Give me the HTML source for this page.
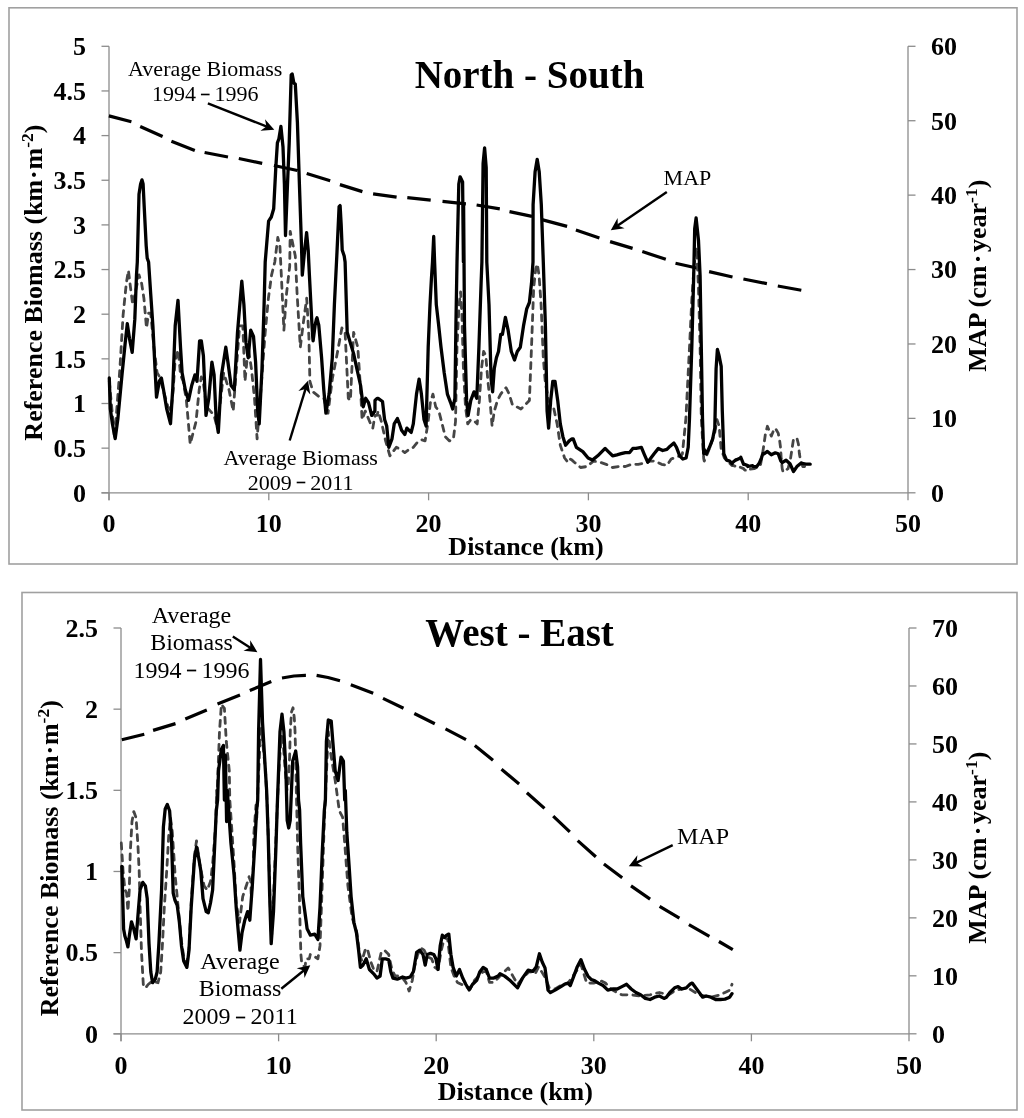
<!DOCTYPE html><html><head><meta charset="utf-8"><style>html,body{margin:0;padding:0;background:#fff;width:1024px;height:1118px;overflow:hidden}svg{display:block;will-change:transform}text{font-family:"Liberation Serif",serif}</style></head><body>
<svg width="1024" height="1118" viewBox="0 0 1024 1118">
<rect x="0" y="0" width="1024" height="1118" fill="#fff"/>
<rect x="9" y="7.8" width="1008" height="556.2" fill="none" stroke="#a0a0a0" stroke-width="1.6"/>
<g stroke="#8c8c8c" stroke-width="1.3" fill="none">
<line x1="109" y1="46.3" x2="109" y2="500.3"/>
<line x1="101.5" y1="492.8" x2="908" y2="492.8"/>
<line x1="908" y1="46.3" x2="908" y2="492.8"/>
<line x1="101.5" y1="492.80" x2="109" y2="492.80"/>
<line x1="101.5" y1="448.15" x2="109" y2="448.15"/>
<line x1="101.5" y1="403.50" x2="109" y2="403.50"/>
<line x1="101.5" y1="358.85" x2="109" y2="358.85"/>
<line x1="101.5" y1="314.20" x2="109" y2="314.20"/>
<line x1="101.5" y1="269.55" x2="109" y2="269.55"/>
<line x1="101.5" y1="224.90" x2="109" y2="224.90"/>
<line x1="101.5" y1="180.25" x2="109" y2="180.25"/>
<line x1="101.5" y1="135.60" x2="109" y2="135.60"/>
<line x1="101.5" y1="90.95" x2="109" y2="90.95"/>
<line x1="101.5" y1="46.30" x2="109" y2="46.30"/>
<line x1="908" y1="492.80" x2="915.5" y2="492.80"/>
<line x1="908" y1="418.38" x2="915.5" y2="418.38"/>
<line x1="908" y1="343.97" x2="915.5" y2="343.97"/>
<line x1="908" y1="269.55" x2="915.5" y2="269.55"/>
<line x1="908" y1="195.13" x2="915.5" y2="195.13"/>
<line x1="908" y1="120.72" x2="915.5" y2="120.72"/>
<line x1="908" y1="46.30" x2="915.5" y2="46.30"/>
<line x1="109.00" y1="492.8" x2="109.00" y2="500.3"/>
<line x1="268.80" y1="492.8" x2="268.80" y2="500.3"/>
<line x1="428.60" y1="492.8" x2="428.60" y2="500.3"/>
<line x1="588.40" y1="492.8" x2="588.40" y2="500.3"/>
<line x1="748.20" y1="492.8" x2="748.20" y2="500.3"/>
<line x1="908.00" y1="492.8" x2="908.00" y2="500.3"/>
</g>
<g font-weight="bold" font-size="26" fill="#000">
<text x="86" y="501.60" text-anchor="end">0</text>
<text x="86" y="456.95" text-anchor="end">0.5</text>
<text x="86" y="412.30" text-anchor="end">1</text>
<text x="86" y="367.65" text-anchor="end">1.5</text>
<text x="86" y="323.00" text-anchor="end">2</text>
<text x="86" y="278.35" text-anchor="end">2.5</text>
<text x="86" y="233.70" text-anchor="end">3</text>
<text x="86" y="189.05" text-anchor="end">3.5</text>
<text x="86" y="144.40" text-anchor="end">4</text>
<text x="86" y="99.75" text-anchor="end">4.5</text>
<text x="86" y="55.10" text-anchor="end">5</text>
<text x="931" y="501.60">0</text>
<text x="931" y="427.18">10</text>
<text x="931" y="352.77">20</text>
<text x="931" y="278.35">30</text>
<text x="931" y="203.93">40</text>
<text x="931" y="129.52">50</text>
<text x="931" y="55.10">60</text>
<text x="109.00" y="532" text-anchor="middle">0</text>
<text x="268.80" y="532" text-anchor="middle">10</text>
<text x="428.60" y="532" text-anchor="middle">20</text>
<text x="588.40" y="532" text-anchor="middle">30</text>
<text x="748.20" y="532" text-anchor="middle">40</text>
<text x="908.00" y="532" text-anchor="middle">50</text>
</g>
<text x="526" y="555" font-weight="bold" font-size="26" text-anchor="middle">Distance (km)</text>
<text x="529.5" y="88" font-weight="bold" font-size="39" text-anchor="middle">North - South</text>
<text transform="translate(41.6,282.6) rotate(-90)" font-weight="bold" font-size="26" text-anchor="middle">Reference Biomass (km<tspan dx="0.8">·</tspan><tspan dx="0.8">m</tspan><tspan font-size="17.5" dy="-9">-2</tspan><tspan dy="9">)</tspan></text>
<text transform="translate(986,275.7) rotate(-90)" font-weight="bold" font-size="26" text-anchor="middle">MAP (cm<tspan dx="2.5">·</tspan><tspan dx="2.5">year</tspan><tspan font-size="17.5" dy="-9">-1</tspan><tspan dy="9">)</tspan></text>
<path d="M108.9,115.9 L131.4,121.8 M140.2,126.5 L162.6,136.5 M171.4,141.3 L194.8,150.5 M204.6,152.5 L228.0,157.0 M238.8,158.5 L262.2,163.4 M273.9,165.5 L297.4,170.5 L297.6,170.6 M306.7,173.5 L330.2,180.8 M339.9,184.6 L362.4,191.6 M373.1,193.8 L396.6,197.2 M407.3,197.6 L430.7,200.2 M442.5,201.3 L465.9,203.8 M476.6,205.0 L499.8,208.8 M509.5,211.6 L532.0,216.4 M541.8,219.6 L567.1,226.4 M575.9,230.0 L599.4,238.0 M610.1,241.6 L632.6,248.4 M642.3,251.6 L665.8,259.3 M675.5,263.2 L699.0,268.5 M709.1,271.6 L732.5,277.0 M743.4,279.0 L766.9,283.6 M777.8,286.0 L801.3,290.3" fill="none" stroke="#000" stroke-width="3.2" stroke-linejoin="round"/>
<polyline points="109.3,381.1 114.6,438.6 119.9,368.4 123.1,315.2 126.3,283.3 128.4,270.5 130.5,287.5 132.7,304.6 135.9,289.7 139.0,274.8 141.6,283.3 143.9,298.2 146.5,328.0 148.6,313.1 150.7,313.1 153.9,347.1 157.1,372.6 159.8,377.3 163.9,392.5 167.8,406.2 171.0,410.8 173.2,389.5 175.0,362.1 178.0,350.0 180.0,368.5 180.3,374.3 183.2,381.3 186.4,400.4 190.2,444.1 196.0,421.7 199.2,389.8 201.3,377.0 203.4,383.4 206.6,406.8 214.1,415.4 217.3,428.1 223.7,372.8 229.0,389.8 233.2,411.1 239.6,325.9 242.8,325.9 245.0,381.3 248.2,347.2 251.4,368.5 254.5,398.3 257.1,438.8 260.9,389.8 265.2,332.3 268.4,298.2 271.6,274.8 274.8,262.0 277.8,237.5 279.9,245.8 281.2,272.6 283.9,330.2 286.5,293.9 289.7,266.3 290.2,231.4 295.3,256.0 297.1,293.9 300.3,347.2 303.5,321.6 306.7,298.2 308.9,336.5 309.9,381.3 313.1,391.9 318.4,396.2 323.8,398.3 328.0,413.2 332.3,379.1 337.6,351.5 341.9,328.0 345.1,332.3 348.3,398.3 350.4,400.4 353.6,332.3 357.8,347.2 360.6,389.8 362.1,419.6 365.3,411.1 370.6,423.9 372.8,428.1 375.0,415.4 377.0,415.4 378.2,411.1 381.4,421.7 385.6,440.9 389.9,455.8 393.1,451.6 396.3,447.3 400.6,449.4 404.8,452.6 409.1,449.4 413.3,447.3 417.6,442.0 421.9,439.8 425.1,440.9 427.8,423.9 430.4,402.6 432.9,394.1 435.7,406.8 438.9,411.1 442.1,423.9 445.3,436.7 449.5,440.9 453.4,438.8 455.5,421.7 457.0,347.2 459.1,304.6 460.6,291.8 461.9,315.2 463.4,368.5 465.5,406.8 467.7,423.9 470.8,419.6 475.1,421.7 477.2,423.9 479.4,400.4 481.5,368.5 483.6,351.5 485.8,355.7 487.9,381.3 490.0,400.4 492.1,426.0 494.3,411.1 497.5,400.4 500.7,394.1 503.9,389.8 506.0,387.7 509.2,394.1 512.4,404.7 516.6,406.8 520.9,409.0 525.2,404.7 529.4,400.4 531.5,347.2 533.7,287.6 535.8,268.4 537.3,264.1 539.0,274.8 541.1,304.6 543.3,357.8 545.4,383.4 548.6,400.4 553.9,409.0 557.1,423.9 560.3,445.2 564.6,458.0 567.8,462.2 570.0,459.0 572.0,460.1 574.3,462.2 580.6,467.5 587.0,466.5 593.4,461.1 599.8,462.2 606.2,464.3 612.6,467.5 619.0,466.5 625.4,466.5 631.8,464.3 638.2,464.3 644.5,463.3 649.9,461.1 655.2,461.1 661.6,464.3 666.9,465.4 671.2,459.0 676.5,456.9 680.8,455.8 682.4,453.8 685.9,418.3 689.5,347.2 691.8,299.8 694.2,264.2 696.6,247.7 698.5,287.9 700.1,347.2 701.3,418.3 703.7,458.6 704.2,461.1 707.4,453.7 710.6,445.2 714.8,432.4 717.0,419.6 719.1,426.0 721.2,449.4 724.4,458.0 728.7,462.2 732.0,465.6 732.9,465.4 737.9,467.1 738.3,466.5 743.6,468.6 744.8,470.1 748.9,470.7 749.7,469.1 754.2,468.6 756.6,467.6 759.5,466.6 760.6,464.3 762.5,453.8 764.0,444.0 765.4,434.1 767.4,426.3 769.4,431.2 771.3,436.1 773.3,431.2 775.3,428.2 778.2,433.1 779.7,441.0 780.7,448.9 781.2,458.7 782.2,468.6 783.1,472.0 788.1,468.6 790.5,458.7 792.0,448.9 793.5,439.1 795.0,438.1 796.9,438.1 798.4,444.0 799.4,453.8 800.4,459.7 802.8,466.6 808.7,466.6" fill="none" stroke="#454545" stroke-width="2.8" stroke-dasharray="6 6" stroke-linecap="round" stroke-linejoin="round"/>
<polyline points="109.3,378.0 110.3,408.8 112.4,423.7 115.2,438.6 117.8,419.4 122.0,374.8 125.2,342.9 127.3,323.7 129.5,338.6 132.2,352.4 134.8,319.4 136.5,274.8 137.3,262.0 139.0,194.3 140.6,184.0 142.0,179.9 143.1,184.0 144.1,204.6 146.2,245.8 147.2,258.1 148.6,262.0 150.7,293.9 152.9,325.8 155.0,368.4 156.5,397.1 159.3,381.1 161.4,378.0 163.5,389.7 166.7,408.8 170.5,423.7 172.7,389.7 175.2,325.8 178.0,300.3 180.5,347.1 182.1,372.8 185.3,389.8 188.5,400.4 191.7,385.5 194.9,374.9 197.0,381.3 199.6,340.8 201.3,340.8 203.4,355.7 206.0,415.4 208.8,398.3 211.9,362.1 214.1,374.9 216.2,419.6 218.3,432.4 221.5,374.9 225.8,347.2 227.9,362.1 231.1,385.5 234.3,389.8 237.5,332.3 241.8,281.2 243.9,304.6 246.0,342.9 248.2,357.8 250.7,330.2 253.5,336.5 255.6,362.1 257.7,411.1 259.2,423.9 262.0,368.5 264.1,304.6 265.2,262.0 268.6,221.1 271.3,217.0 273.7,208.7 275.8,167.6 277.4,142.9 278.9,138.8 280.9,126.4 283.0,147.0 284.4,184.0 285.5,235.5 287.1,194.3 289.2,142.9 291.2,75.0 292.2,74.0 293.9,83.2 295.3,84.2 297.4,122.3 299.4,184.0 301.5,245.8 302.3,275.2 304.4,252.6 306.6,232.6 308.2,250.1 309.4,275.2 310.7,300.3 312.0,325.3 312.8,337.8 313.1,340.8 315.1,325.3 316.3,319.5 317.0,317.8 318.4,323.8 318.8,325.3 321.6,357.8 323.8,389.8 325.9,413.2 329.1,394.1 332.3,357.8 334.4,304.6 336.5,262.0 337.0,251.9 339.1,206.7 340.1,205.6 341.2,225.2 342.2,249.9 344.2,256.0 345.1,262.0 347.2,332.3 350.4,342.9 353.6,353.6 356.8,368.5 360.6,385.5 363.2,406.8 365.7,398.3 368.5,402.6 371.7,415.4 374.9,411.1 375.0,400.4 377.1,398.3 378.1,398.3 382.5,401.5 384.6,419.6 386.7,426.0 388.8,447.3 392.0,438.8 394.2,423.9 397.4,418.5 399.5,423.9 401.6,430.3 404.8,434.5 406.9,428.1 409.1,430.3 411.2,432.4 413.3,423.9 416.5,394.1 419.1,379.1 421.4,394.1 424.0,419.6 426.1,426.0 428.2,347.2 430.0,304.6 431.4,279.0 432.5,262.0 433.7,236.5 434.6,262.0 436.3,304.6 438.5,323.8 441.0,347.2 444.2,372.8 447.4,394.1 450.6,402.6 452.7,409.0 454.9,398.3 455.9,325.9 457.0,262.0 458.8,184.0 460.1,176.8 462.6,182.0 463.4,262.0 463.6,204.6 464.5,325.9 466.6,400.4 468.1,415.4 470.8,400.4 474.0,391.9 476.8,398.3 478.9,347.2 481.1,283.3 481.9,262.0 483.1,163.5 484.6,148.0 486.2,167.6 486.8,262.0 489.0,304.6 491.1,379.1 492.6,391.9 494.3,368.5 496.4,357.8 498.5,351.5 500.7,334.4 502.4,334.4 505.4,317.4 508.1,330.2 511.3,351.5 514.5,360.0 517.3,351.5 520.3,347.2 523.5,325.9 526.7,308.9 529.4,302.5 531.5,283.3 533.0,262.0 533.1,204.6 535.1,171.7 537.2,159.3 539.2,171.7 541.3,204.6 543.3,262.0 545.4,325.9 547.1,411.1 548.6,428.1 550.7,400.4 552.8,381.3 555.0,381.3 557.7,400.4 560.3,423.9 562.9,436.7 565.6,445.2 569.2,440.9 572.0,438.8 573.2,438.8 576.4,447.3 582.8,451.6 588.1,458.0 592.4,460.1 597.7,455.8 601.9,451.6 605.1,448.4 608.3,451.6 612.6,455.8 616.9,454.8 621.1,453.7 625.4,452.6 629.6,452.6 632.8,448.4 636.0,448.4 641.4,447.3 644.5,454.8 647.7,462.2 650.9,458.0 654.1,453.7 658.4,448.4 662.7,450.5 666.9,449.4 670.1,446.2 673.9,443.0 676.5,447.3 679.7,455.8 682.9,459.0 686.1,458.0 688.2,447.3 689.5,418.3 691.8,347.2 693.7,276.1 694.7,228.7 696.1,218.0 698.5,240.5 700.1,276.1 701.3,347.2 702.5,418.3 703.7,453.8 704.2,449.4 706.3,453.7 709.5,447.3 712.7,438.8 714.8,428.1 716.1,368.5 717.4,349.3 719.1,355.7 721.2,366.4 722.3,411.1 723.8,453.7 726.5,460.1 729.7,461.1 732.0,463.7 732.9,462.2 735.9,459.7 736.1,460.1 740.4,458.0 740.8,457.3 743.6,464.3 744.3,464.2 747.7,465.6 747.8,466.5 752.6,465.6 753.2,466.5 756.6,466.6 758.5,464.3 759.5,462.7 761.5,457.8 762.8,453.7 764.0,453.8 767.4,451.4 771.3,454.8 775.3,452.8 778.2,453.8 780.7,460.7 782.2,462.7 786.1,460.2 790.0,463.7 793.5,471.5 796.9,466.6 800.9,463.2 805.8,464.2 810.2,464.2" fill="none" stroke="#000" stroke-width="3.3" stroke-linejoin="round" stroke-linecap="round"/>
<text x="205.2" y="75.7" font-size="22" text-anchor="middle">Average Biomass</text>
<text x="205.2" y="101.0" font-size="22" text-anchor="middle">1994 <tspan font-size="15.0" dy="-3.1" stroke="#000" stroke-width="0.9">–</tspan><tspan dy="3.1"> 1996</tspan></text>
<line x1="207.9" y1="103.3" x2="266.9" y2="126.7" stroke="#000" stroke-width="2.4"/>
<polygon points="274.3,129.7 260.4,130.8 266.4,126.6 265.0,119.3" fill="#000"/>
<text x="300.7" y="464.6" font-size="22" text-anchor="middle">Average Biomass</text>
<text x="300.7" y="489.5" font-size="22" text-anchor="middle">2009 <tspan font-size="15.0" dy="-3.1" stroke="#000" stroke-width="0.9">–</tspan><tspan dy="3.1"> 2011</tspan></text>
<line x1="289.7" y1="440.5" x2="305.7" y2="388.4" stroke="#000" stroke-width="2.4"/>
<polygon points="308.0,380.8 310.3,394.6 305.5,388.9 298.4,390.9" fill="#000"/>
<text x="663.6" y="184.8" font-size="22">MAP</text>
<line x1="666.8" y1="191.9" x2="617.4" y2="225.8" stroke="#000" stroke-width="2.4"/>
<polygon points="610.8,230.3 617.6,218.1 617.8,225.5 624.6,228.3" fill="#000"/>
<rect x="22" y="592.5" width="995" height="517.5" fill="none" stroke="#a0a0a0" stroke-width="1.6"/>
<g stroke="#8c8c8c" stroke-width="1.3" fill="none">
<line x1="121" y1="628" x2="121" y2="1041.3"/>
<line x1="113.5" y1="1033.8" x2="909" y2="1033.8"/>
<line x1="909" y1="628" x2="909" y2="1033.8"/>
<line x1="113.5" y1="1033.80" x2="121" y2="1033.80"/>
<line x1="113.5" y1="952.64" x2="121" y2="952.64"/>
<line x1="113.5" y1="871.48" x2="121" y2="871.48"/>
<line x1="113.5" y1="790.32" x2="121" y2="790.32"/>
<line x1="113.5" y1="709.16" x2="121" y2="709.16"/>
<line x1="113.5" y1="628.00" x2="121" y2="628.00"/>
<line x1="909" y1="1033.80" x2="916.5" y2="1033.80"/>
<line x1="909" y1="975.83" x2="916.5" y2="975.83"/>
<line x1="909" y1="917.86" x2="916.5" y2="917.86"/>
<line x1="909" y1="859.89" x2="916.5" y2="859.89"/>
<line x1="909" y1="801.91" x2="916.5" y2="801.91"/>
<line x1="909" y1="743.94" x2="916.5" y2="743.94"/>
<line x1="909" y1="685.97" x2="916.5" y2="685.97"/>
<line x1="909" y1="628.00" x2="916.5" y2="628.00"/>
<line x1="121.00" y1="1033.8" x2="121.00" y2="1041.3"/>
<line x1="278.60" y1="1033.8" x2="278.60" y2="1041.3"/>
<line x1="436.20" y1="1033.8" x2="436.20" y2="1041.3"/>
<line x1="593.80" y1="1033.8" x2="593.80" y2="1041.3"/>
<line x1="751.40" y1="1033.8" x2="751.40" y2="1041.3"/>
<line x1="909.00" y1="1033.8" x2="909.00" y2="1041.3"/>
</g>
<g font-weight="bold" font-size="26" fill="#000">
<text x="98" y="1042.60" text-anchor="end">0</text>
<text x="98" y="961.44" text-anchor="end">0.5</text>
<text x="98" y="880.28" text-anchor="end">1</text>
<text x="98" y="799.12" text-anchor="end">1.5</text>
<text x="98" y="717.96" text-anchor="end">2</text>
<text x="98" y="636.80" text-anchor="end">2.5</text>
<text x="932" y="1042.60">0</text>
<text x="932" y="984.63">10</text>
<text x="932" y="926.66">20</text>
<text x="932" y="868.69">30</text>
<text x="932" y="810.71">40</text>
<text x="932" y="752.74">50</text>
<text x="932" y="694.77">60</text>
<text x="932" y="636.80">70</text>
<text x="121.00" y="1073.6" text-anchor="middle">0</text>
<text x="278.60" y="1073.6" text-anchor="middle">10</text>
<text x="436.20" y="1073.6" text-anchor="middle">20</text>
<text x="593.80" y="1073.6" text-anchor="middle">30</text>
<text x="751.40" y="1073.6" text-anchor="middle">40</text>
<text x="909.00" y="1073.6" text-anchor="middle">50</text>
</g>
<text x="515.3" y="1099.6" font-weight="bold" font-size="26" text-anchor="middle">Distance (km)</text>
<text x="519.6" y="645.8" font-weight="bold" font-size="39" text-anchor="middle">West - East</text>
<text transform="translate(58,858.2) rotate(-90)" font-weight="bold" font-size="26" text-anchor="middle">Reference Biomass (km<tspan dx="0.8">·</tspan><tspan dx="0.8">m</tspan><tspan font-size="17.5" dy="-9">-2</tspan><tspan dy="9">)</tspan></text>
<text transform="translate(986,847.7) rotate(-90)" font-weight="bold" font-size="26" text-anchor="middle">MAP (cm<tspan dx="2.5">·</tspan><tspan dx="2.5">year</tspan><tspan font-size="17.5" dy="-9">-1</tspan><tspan dy="9">)</tspan></text>
<path d="M121.8,739.8 L144.3,734.3 M153.1,730.4 L175.5,723.6 M185.3,718.9 L206.8,710.0 M217.5,704.1 L240.0,695.0 M249.8,690.5 L271.3,681.6 M282.0,678.0 L294.0,676.0 L305.4,675.4 L305.9,675.4 M316.6,675.4 L328.0,677.5 L340.0,680.8 M350.8,684.7 L373.2,693.3 M383.0,698.4 L403.5,708.3 M414.3,713.5 L434.8,723.8 M445.5,728.8 L466.0,739.6 M474.8,745.6 L493.0,760.3 M501.5,769.3 L519.1,783.9 M526.9,792.7 L544.5,808.4 M553.2,816.2 L569.8,831.8 M577.7,840.6 L595.2,856.2 L595.9,856.8 M603.9,863.9 L622.2,877.8 M631.0,885.9 L650.1,899.1 M659.6,906.4 L679.4,918.1 M688.9,924.7 L709.4,936.4 M718.9,941.5 L732.8,949.6" fill="none" stroke="#000" stroke-width="3.2" stroke-linejoin="round"/>
<polyline points="121.3,843.0 123.1,871.6 124.9,889.6 126.6,893.1 127.9,911.1 129.3,889.6 130.2,853.7 132.0,821.5 133.8,811.6 136.1,817.9 137.9,844.8 139.2,871.6 140.1,907.5 141.5,952.2 143.3,984.5 145.4,988.1 148.1,984.5 152.6,980.9 158.0,982.7 160.7,972.0 162.5,943.3 164.3,907.5 166.9,868.1 168.7,835.8 170.5,817.9 172.3,832.2 174.1,859.1 175.1,875.1 177.2,896.6 179.4,920.2 181.5,941.6 183.7,956.7 186.9,963.1 189.0,948.1 191.2,903.0 194.4,855.8 196.5,840.8 199.8,864.4 204.1,885.8 207.3,890.1 210.5,881.5 212.6,864.4 215.9,821.5 216.6,790.3 216.9,800.0 219.5,731.7 221.4,704.4 224.4,708.3 226.3,741.5 229.3,770.8 229.8,800.0 232.0,832.2 234.1,864.4 236.2,903.0 239.5,922.3 242.7,896.6 246.3,885.8 249.1,876.7 249.1,877.3 250.7,881.3 251.3,896.6 253.4,864.4 253.7,835.7 256.0,805.2 256.6,821.5 258.5,775.0 260.2,740.0 261.5,727.8 263.0,745.0 265.5,770.7 267.5,810.0 269.2,870.0 270.8,925.0 271.5,938.0 273.2,905.0 275.5,850.0 277.5,800.0 279.5,760.0 281.6,735.8 283.3,745.0 285.2,770.0 287.0,790.0 288.3,784.1 289.6,757.3 290.3,730.5 291.5,712.0 293.0,707.7 294.3,718.0 295.0,730.5 295.7,757.3 296.3,790.0 297.8,850.9 299.4,896.5 300.1,927.0 300.9,954.4 301.7,963.1 305.0,967.4 306.0,958.8 309.3,958.8 310.3,954.5 314.7,956.7 317.9,958.8 320.0,945.9 322.2,885.8 324.3,821.5 328.3,731.7 330.3,751.2 335.2,780.5 339.3,810.7 342.6,817.2 344.7,842.9 347.9,885.8 352.2,918.0 356.5,930.9 359.7,954.5 361.9,960.9 365.1,950.2 367.2,948.1 370.5,960.9 373.7,969.5 376.9,971.7 381.2,952.4 384.4,950.2 388.7,954.5 391.9,969.5 395.1,976.0 399.4,976.0 402.6,978.1 405.9,982.4 409.1,991.0 412.3,980.3 414.4,967.4 417.7,954.5 420.9,948.1 424.1,950.2 427.3,956.7 431.6,958.8 434.8,967.4 438.0,969.5 441.3,950.2 444.5,937.3 447.7,939.5 450.9,967.4 454.1,976.0 457.4,982.4 461.7,984.5 465.9,986.7 470.2,988.8 474.5,980.3 478.8,976.0 483.1,971.7 486.3,971.7 489.5,982.4 493.8,982.4 498.1,978.1 500.0,976.1 508.2,967.9 512.9,976.1 517.6,984.3 522.3,978.4 529.3,971.4 535.2,973.7 538.7,966.7 542.2,972.6 545.7,978.4 549.2,987.8 555.1,989.0 560.9,985.5 568.0,983.1 573.8,974.9 580.9,964.4 586.7,983.1 593.7,983.1 600.8,980.8 605.5,983.1 612.5,990.1 621.9,994.8 631.2,994.8 640.6,996.0 650.0,994.8 659.4,992.5 668.7,994.8 675.8,990.1 687.5,987.8 699.2,994.8 710.9,997.2 720.3,994.8 725.0,992.5 729.7,990.1 732.0,984.3" fill="none" stroke="#454545" stroke-width="2.8" stroke-dasharray="6 6" stroke-linecap="round" stroke-linejoin="round"/>
<polyline points="121.8,866.3 122.5,889.6 123.6,929.0 124.9,936.1 126.6,941.5 127.9,946.9 129.3,936.1 131.5,921.8 133.8,929.0 136.1,938.8 138.3,911.1 140.1,889.6 142.8,882.4 145.4,886.0 147.2,898.5 149.0,943.3 150.8,972.0 152.6,982.7 155.3,979.1 157.1,972.0 158.9,943.3 161.6,889.6 163.4,826.9 165.2,809.0 167.3,804.5 169.6,810.7 171.4,835.8 173.2,893.1 175.0,900.3 177.2,905.2 179.4,922.3 181.5,945.9 183.7,960.9 186.9,967.4 189.0,950.2 191.2,907.3 194.4,860.1 196.5,847.2 198.7,857.9 200.8,870.8 203.0,898.7 206.2,911.6 208.3,912.7 210.5,903.0 212.6,890.1 214.8,842.9 216.3,810.7 217.6,800.0 218.5,770.8 221.4,749.3 223.4,745.4 224.4,800.0 225.4,755.2 226.6,821.5 227.3,790.3 230.9,842.9 234.1,875.1 236.2,907.3 238.4,933.0 239.9,950.2 242.0,933.0 244.8,920.2 247.6,911.6 249.8,920.2 252.3,885.8 254.9,842.9 256.6,810.7 257.7,800.0 258.6,731.7 260.5,659.5 262.5,722.0 265.4,770.8 266.6,790.0 268.2,835.7 269.7,896.5 271.2,943.7 273.5,911.7 275.8,850.9 277.3,805.2 280.0,731.7 282.0,714.1 283.9,731.7 285.9,770.8 287.2,820.4 288.7,828.0 290.2,820.4 292.7,761.0 295.7,751.2 297.6,766.9 298.5,800.0 299.6,810.0 300.6,842.9 302.8,896.6 306.0,920.2 307.1,928.8 310.4,935.2 314.7,934.1 317.9,939.5 320.0,907.3 322.2,853.6 324.3,810.7 325.4,800.0 326.4,741.5 328.3,720.0 331.2,721.0 332.8,741.5 335.2,770.8 338.1,780.5 341.0,757.1 343.4,761.0 344.7,800.0 345.3,790.3 346.8,832.2 349.0,864.4 351.1,896.6 353.9,922.3 356.5,933.0 358.6,950.2 360.4,967.4 362.9,965.2 366.2,958.8 369.4,969.5 373.7,973.8 376.9,978.1 380.1,976.0 382.3,958.8 385.5,958.8 388.7,959.9 390.8,971.7 393.0,978.1 397.3,979.2 402.6,977.0 405.9,978.1 410.2,977.0 413.4,971.7 416.6,952.4 419.8,950.2 423.0,954.5 425.2,965.2 427.3,954.5 430.5,953.4 433.8,954.5 435.9,958.8 438.0,969.5 440.2,945.9 442.3,935.2 444.5,937.3 446.6,935.2 448.8,934.1 450.9,954.5 453.1,967.4 456.3,976.0 459.5,969.5 462.7,978.1 465.9,984.5 469.2,989.9 472.4,984.5 476.7,980.3 479.9,971.7 483.1,967.4 486.3,969.5 489.5,978.1 493.8,978.1 498.1,976.0 500.0,973.7 504.7,976.1 510.5,980.8 517.6,987.8 522.3,978.4 528.1,970.2 532.8,971.4 536.3,966.7 539.4,953.8 542.2,962.0 545.0,967.9 548.0,990.1 550.4,992.5 555.1,990.1 560.9,986.6 564.4,984.3 568.0,983.1 570.3,985.5 573.8,976.1 577.3,966.7 580.9,959.7 584.4,969.1 587.9,976.1 591.4,979.6 594.9,980.8 598.4,983.1 603.1,985.5 607.8,990.1 612.5,989.0 617.2,989.0 621.9,986.6 626.6,984.3 631.2,989.0 635.9,992.5 640.6,994.8 645.3,998.4 650.0,999.5 654.7,997.2 659.4,996.0 664.0,998.4 666.4,997.2 669.9,992.5 674.6,987.8 678.1,986.6 681.6,989.0 686.3,987.8 689.8,984.3 692.2,983.1 695.7,987.8 699.2,992.5 702.7,997.2 706.2,996.0 710.9,997.2 715.6,999.5 720.3,999.5 725.0,999.1 729.7,997.2 732.0,993.7" fill="none" stroke="#000" stroke-width="3.3" stroke-linejoin="round" stroke-linecap="round"/>
<text x="191.5" y="622.8" font-size="24" text-anchor="middle">Average</text>
<text x="191.5" y="650.1" font-size="24" text-anchor="middle">Biomass</text>
<text x="191.5" y="677.5" font-size="24" text-anchor="middle">1994 <tspan font-size="16.3" dy="-3.4" stroke="#000" stroke-width="0.9">–</tspan><tspan dy="3.4"> 1996</tspan></text>
<line x1="232.8" y1="636.5" x2="250.7" y2="647.9" stroke="#000" stroke-width="2.4"/>
<polygon points="257.4,652.2 243.5,650.7 250.2,647.6 250.2,640.2" fill="#000"/>
<text x="240" y="968.5" font-size="24" text-anchor="middle">Average</text>
<text x="240" y="996.3" font-size="24" text-anchor="middle">Biomass</text>
<text x="240" y="1024.1" font-size="24" text-anchor="middle">2009 <tspan font-size="16.3" dy="-3.4" stroke="#000" stroke-width="0.9">–</tspan><tspan dy="3.4"> 2011</tspan></text>
<line x1="281.3" y1="988.8" x2="304.1" y2="970.2" stroke="#000" stroke-width="2.4"/>
<polygon points="310.3,965.2 304.5,977.9 303.7,970.6 296.7,968.3" fill="#000"/>
<text x="677" y="844" font-size="24">MAP</text>
<line x1="672.7" y1="845.2" x2="636.0" y2="862.8" stroke="#000" stroke-width="2.4"/>
<polygon points="628.8,866.3 637.4,855.3 636.5,862.6 642.8,866.5" fill="#000"/>
</svg></body></html>
